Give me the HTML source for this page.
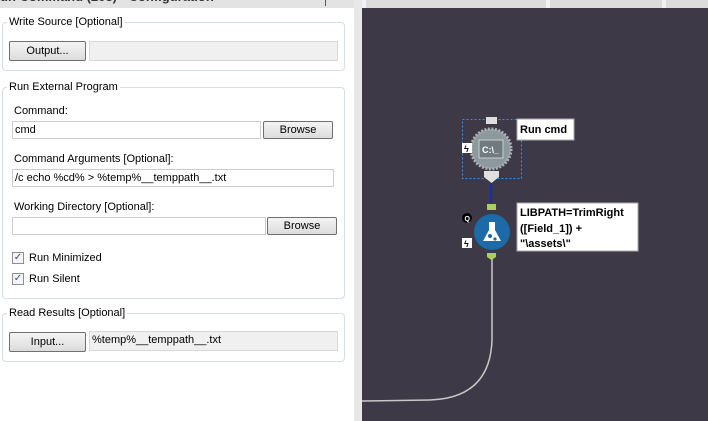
<!DOCTYPE html>
<html><head><style>
*{margin:0;padding:0;box-sizing:border-box}
body{width:708px;height:421px;overflow:hidden;background:#fff;font-family:"Liberation Sans",sans-serif;font-size:11px;color:#000;position:relative}
.a{position:absolute}
.grp{position:absolute;border:1px solid #d5dfe5;border-radius:4px}
.lg{position:absolute;background:#fff;padding:0 2px;font-size:11px}
.in{position:absolute;border:1px solid #c8cdd2;background:#fff;height:18px;padding:2px 2px;font-size:11px;white-space:nowrap}
.dis{background:#f0f0f0;border-color:#d8d8d8}
.btn{position:absolute;border:1px solid #707070;background:linear-gradient(#f4f4f4,#dcdcdc);border-radius:2px;text-align:center;font-size:11px;line-height:18px;height:20px}
.cb{position:absolute;width:12px;height:12px;border:1px solid #8e8f8f;background:#f4f4f4;font-size:10px;line-height:10px;text-align:center;color:#3a4d7a}
.lbl{position:absolute;font-size:11px;white-space:nowrap}
</style></head><body>
<div class="a" style="left:0;top:0;width:354px;height:8px;background:#e3e3e3;overflow:hidden"><div style="position:absolute;top:-11px;left:0;font-weight:bold;font-size:13px;color:#333">un Command (203) - Configuration</div><div style="position:absolute;left:325px;top:0;width:1px;height:6px;background:#555"></div></div>

<div class="grp" style="left:2px;top:22px;width:343px;height:49px"></div>
<div class="lg" style="left:7px;top:16px">Write Source [Optional]</div>
<div class="btn" style="left:9px;top:41px;width:77px">Output...</div>
<div class="in dis" style="left:89px;top:41px;width:249px;height:20px"></div>

<div class="grp" style="left:2px;top:87px;width:343px;height:212px"></div>
<div class="lg" style="left:7px;top:81px">Run External Program</div>
<div class="lbl" style="left:14px;top:105px">Command:</div>
<div class="in" style="left:12px;top:121px;width:249px">cmd</div>
<div class="btn" style="left:263px;top:121px;width:70px;height:18px;line-height:16px">Browse</div>
<div class="lbl" style="left:14px;top:153px">Command Arguments [Optional]:</div>
<div class="in" style="left:12px;top:169px;width:322px">/c echo %cd% &gt; %temp%__temppath__.txt</div>
<div class="lbl" style="left:14px;top:201px">Working Directory [Optional]:</div>
<div class="in" style="left:12px;top:217px;width:254px"></div>
<div class="btn" style="left:267px;top:217px;width:70px;height:18px;line-height:16px">Browse</div>
<div class="cb" style="left:12px;top:252px">✓</div>
<div class="lbl" style="left:29px;top:252px">Run Minimized</div>
<div class="cb" style="left:12px;top:273px">✓</div>
<div class="lbl" style="left:29px;top:273px">Run Silent</div>

<div class="grp" style="left:2px;top:313px;width:343px;height:49px"></div>
<div class="lg" style="left:7px;top:307px">Read Results [Optional]</div>
<div class="btn" style="left:9px;top:332px;width:77px">Input...</div>
<div class="in dis" style="left:89px;top:331px;width:249px;height:20px">%temp%__temppath__.txt</div>

<div class="a" style="left:354px;top:0;width:8px;height:421px;background:#e8e8e8"></div>
<div class="a" style="left:362px;top:0;width:346px;height:8px;background:#f2f2f2;overflow:hidden">
<div style="position:absolute;left:4px;top:0;width:180px;height:8px;background:#dcdcdc"></div>
<div style="position:absolute;left:188px;top:0;width:112px;height:8px;background:#dcdcdc"></div>
<div style="position:absolute;left:304px;top:0;width:50px;height:8px;background:#dcdcdc"></div>
</div>
<div class="a" style="left:362px;top:8px;width:346px;height:413px;background:#3e3946"></div>

<svg class="a" style="left:0;top:0" width="708" height="421">
<path d="M492 258 L492 340 Q490 398 430 400 L362 401" fill="none" stroke="#c8c8c8" stroke-width="1.5"/>
<rect x="462.5" y="119.5" width="59" height="59" fill="none" stroke="#3a8ee6" stroke-dasharray="2,2"/>
<rect x="486" y="117" width="11" height="7" fill="#ddd"/>
<circle cx="491" cy="149" r="20" fill="#8d999e" stroke="#a8b2b6" stroke-width="3" stroke-dasharray="2,1.5"/>
<rect x="479" y="140" width="24" height="18" fill="#6f7b80" stroke="#c8d0d3"/>
<text x="482" y="153" font-family="Liberation Sans" font-size="9" font-weight="bold" fill="#fff">C:\_</text>
<path d="M484 171 h15 v6 l-7.5 6 l-7.5 -6z" fill="#e0e0e0"/>
<rect x="462" y="143" width="10" height="10" fill="#fff"/><text x="464" y="152" font-size="9" font-weight="bold">ϟ</text>
<line x1="491" y1="183" x2="491" y2="203" stroke="#1a2db0" stroke-width="2"/>
<rect x="487" y="204" width="9" height="6" fill="#a8d060"/>
<circle cx="492" cy="232" r="18" fill="#1c6aa8"/>
<path d="M488 222 h8 M489 222 v8 l-6 11 h18 l-6 -11 v-8" fill="#fff"/>
<circle cx="490" cy="236" r="2" fill="#1c6aa8"/><circle cx="495" cy="239" r="1.6" fill="#1c6aa8"/>
<circle cx="467" cy="218" r="5" fill="#000"/><text x="464.5" y="221" font-size="7" font-weight="bold" fill="#fff">Q</text>
<rect x="462" y="238" width="10" height="10" fill="#fff"/><text x="464" y="247" font-size="9" font-weight="bold">ϟ</text>
<path d="M487 253 h9 v4 l-4.5 3 l-4.5 -3z" fill="#a8d060"/>
<rect x="517" y="119" width="57" height="21" fill="#fff" stroke="#aaa"/>
<text x="520" y="133" font-family="Liberation Sans" font-size="11" font-weight="bold">Run cmd</text>
<rect x="517" y="203" width="121" height="48" fill="#fff" stroke="#aaa"/>
<text font-family="Liberation Sans" font-size="11" font-weight="bold"><tspan x="520" y="216">LIBPATH=TrimRight</tspan><tspan x="520" y="232">([Field_1]) +</tspan><tspan x="520" y="247">"\assets\"</tspan></text>
</svg>
</body></html>
